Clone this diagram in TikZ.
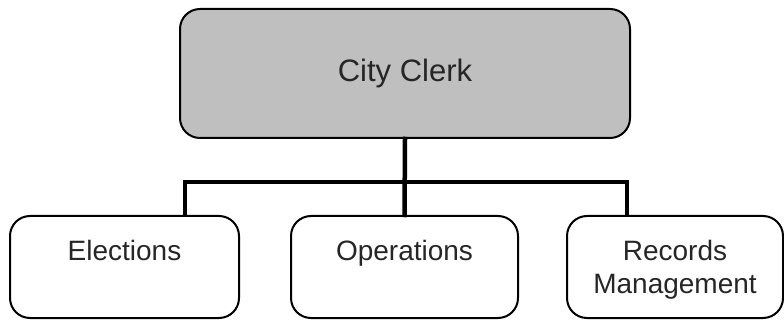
\documentclass[tikz,border=0pt]{standalone}
\usepackage{fontspec}
\setmainfont{Liberation Sans}
\usepackage{tikz}
\usetikzlibrary{positioning}

\tikzset{
  unit/.style={draw=black, line width=2pt, rounded corners=20pt, align=center,
    font=\fontsize{28}{33}\selectfont, text=black!85},
  head/.style={unit, fill=black!25, font=\fontsize{31}{36}\selectfont},
  link/.style={line width=4.5pt, line cap=rect}
}

\begin{document}
\begin{tikzpicture}[x=1pt, y=-1pt]
\useasboundingbox (0,0) rectangle (784,320);

\node[head, minimum width=450pt, minimum height=129pt] (clerk) at (405, 73.5) {City Clerk};

\node[unit, minimum width=229pt, minimum height=102pt] (elections) at (124.5, 267) {Elections\\\mbox{}};
\node[unit, minimum width=227pt, minimum height=102pt] (operations) at (404.5, 267) {Operations\\\mbox{}};
\node[unit, minimum width=216pt, minimum height=102pt, text depth=-2pt] (records) at (675, 267) {Records\\Management};

\coordinate (busL) at (185, 182);
\coordinate (busR) at (627, 182);

\draw[link] (clerk.south) -- (operations.north);
\draw[link] (busL |- elections.north) -- (busL) -- (busR) -- (busR |- records.north);
\end{tikzpicture}
\end{document}
